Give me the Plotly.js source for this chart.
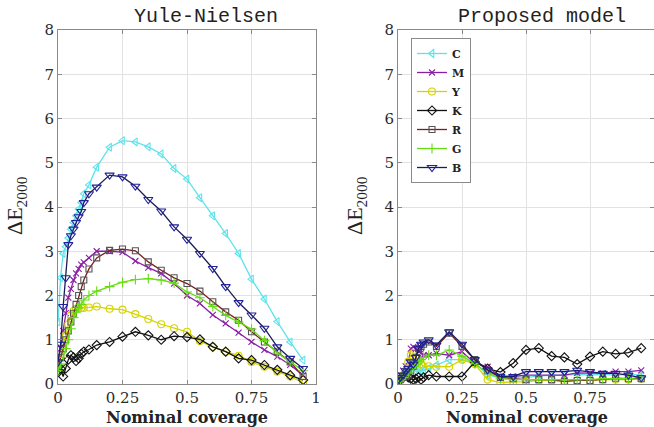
<!DOCTYPE html>
<html>
<head>
<meta charset="utf-8">
<script src="https://cdn.plot.ly/plotly-3.0.1.min.js"></script>
<style>html,body{margin:0;padding:0;background:#fff;}#chart{width:654px;height:427px;}</style>
</head>
<body>
<div id="chart"></div>
<script>
// Nominal coverage sample points
const coverage = [0, 0.01, 0.02, 0.03, 0.04, 0.05, 0.06, 0.07, 0.08, 0.09, 0.1, 0.12, 0.15, 0.2, 0.25, 0.3, 0.35, 0.4, 0.45, 0.5, 0.55, 0.6, 0.65, 0.7, 0.75, 0.8, 0.85, 0.9, 0.95];
const seriesNames = ['C', 'M', 'Y', 'K', 'R', 'G', 'B'];

// Yule-Nielsen model errors (ΔE2000)
const ynC = [1.4, 2.4, 2.95, 3.1, 3.3, 3.5, 3.65, 3.8, 3.95, 4.1, 4.3, 4.5, 4.9, 5.35, 5.5, 5.47, 5.36, 5.2, 4.87, 4.63, 4.21, 3.8, 3.4, 2.95, 2.37, 1.92, 1.41, 0.95, 0.54];
const ynM = [0.5, 0.8, 1.2, 1.6, 1.95, 2.15, 2.35, 2.5, 2.6, 2.7, 2.75, 2.85, 3.0, 3.0, 2.98, 2.78, 2.63, 2.5, 2.27, 2.0, 1.82, 1.56, 1.37, 1.16, 0.95, 0.77, 0.62, 0.43, 0.2];
const ynY = [0.4, 0.6, 0.8, 1.1, 1.35, 1.55, 1.65, 1.7, 1.72, 1.72, 1.72, 1.73, 1.75, 1.7, 1.68, 1.58, 1.47, 1.35, 1.26, 1.18, 0.97, 0.84, 0.73, 0.64, 0.5, 0.39, 0.28, 0.17, 0.03];
const ynK = [0.3, 0.35, 0.17, 0.35, 0.55, 0.65, 0.6, 0.52, 0.58, 0.68, 0.73, 0.78, 0.88, 0.95, 1.07, 1.18, 1.1, 1.0, 1.08, 1.06, 1.01, 0.84, 0.73, 0.58, 0.54, 0.43, 0.32, 0.2, 0.09];
const ynR = [0.4, 0.6, 0.8, 1.0, 1.2, 1.4, 1.6, 1.8, 2.0, 2.2, 2.35, 2.6, 2.85, 3.02, 3.05, 3.01, 2.76, 2.57, 2.4, 2.27, 2.1, 1.86, 1.63, 1.44, 1.18, 0.95, 0.73, 0.5, 0.17];
const ynG = [0.3, 0.45, 0.6, 0.8, 1.0, 1.25, 1.5, 1.62, 1.72, 1.8, 1.9, 2.0, 2.1, 2.2, 2.3, 2.36, 2.38, 2.35, 2.28, 2.08, 1.95, 1.75, 1.55, 1.4, 1.24, 0.98, 0.7, 0.5, 0.3];
const ynB = [0.5, 0.9, 1.75, 2.4, 3.15, 3.35, 3.5, 3.65, 3.78, 3.9, 4.1, 4.3, 4.45, 4.72, 4.68, 4.47, 4.17, 3.91, 3.55, 3.27, 2.95, 2.61, 2.2, 1.84, 1.56, 1.26, 0.84, 0.58, 0.35];

// Proposed model errors (ΔE2000)
const pmC = [0.1, 0.15, 0.2, 0.25, 0.3, 0.35, 0.4, 0.35, 0.3, 0.3, 0.3, 0.35, 0.43, 0.55, 0.55, 0.48, 0.2, 0.15, 0.15, 0.15, 0.18, 0.2, 0.2, 0.22, 0.2, 0.22, 0.2, 0.22, 0.2];
const pmM = [0.1, 0.2, 0.3, 0.4, 0.5, 0.8, 0.84, 0.8, 0.75, 0.7, 0.65, 0.65, 0.69, 0.65, 0.73, 0.47, 0.39, 0.17, 0.17, 0.2, 0.2, 0.2, 0.2, 0.25, 0.24, 0.24, 0.28, 0.28, 0.31];
const pmY = [0.05, 0.1, 0.2, 0.3, 0.5, 0.65, 0.7, 0.6, 0.5, 0.45, 0.4, 0.4, 0.39, 0.39, 0.55, 0.45, 0.1, 0.03, 0.05, 0.05, 0.08, 0.08, 0.05, 0.08, 0.08, 0.1, 0.1, 0.1, 0.12];
const pmK = [0.05, 0.1, 0.15, 0.2, 0.15, 0.12, 0.1, 0.12, 0.15, 0.1, 0.15, 0.2, 0.17, 0.17, 0.17, 0.5, 0.35, 0.27, 0.47, 0.77, 0.81, 0.63, 0.6, 0.45, 0.62, 0.73, 0.68, 0.71, 0.81];
const pmR = [0.05, 0.1, 0.15, 0.2, 0.2, 0.3, 0.4, 0.6, 0.8, 0.85, 0.9, 0.95, 0.85, 1.15, 0.85, 0.55, 0.3, 0.15, 0.12, 0.1, 0.1, 0.1, 0.06, 0.08, 0.08, 0.1, 0.13, 0.12, 0.12];
const pmG = [0.05, 0.1, 0.15, 0.2, 0.25, 0.35, 0.4, 0.45, 0.5, 0.55, 0.6, 0.65, 0.65, 0.77, 0.63, 0.46, 0.25, 0.12, 0.1, 0.1, 0.1, 0.1, 0.1, 0.1, 0.1, 0.12, 0.12, 0.12, 0.15];
const pmB = [0.1, 0.15, 0.2, 0.3, 0.35, 0.5, 0.45, 0.6, 0.8, 0.9, 0.95, 1.0, 0.88, 1.18, 0.9, 0.55, 0.32, 0.17, 0.17, 0.28, 0.28, 0.28, 0.28, 0.31, 0.28, 0.24, 0.24, 0.2, 0.14];

const xTickVals = [0, 0.25, 0.5, 0.75, 1];
const xTickText = ['0', '0.25', '0.5', '0.75', '1'];
const yTickVals = [0, 1, 2, 3, 4, 5, 6, 7, 8];

const styles = {
  C: {line: '#5ee3ea', mk: '#5ee3ea', sym: 'triangle-left-open', size: 7},
  M: {line: '#8a1fa6', mk: '#8a1fa6', sym: 'x-thin-open', size: 6},
  Y: {line: '#d4d400', mk: '#d4d400', sym: 'circle-open', size: 7},
  K: {line: '#111111', mk: '#111111', sym: 'diamond-open', size: 7},
  R: {line: '#7a1e1e', mk: '#555555', sym: 'square-open', size: 6},
  G: {line: '#66dd11', mk: '#66dd11', sym: 'cross-thin-open', size: 7},
  B: {line: '#1c1c5a', mk: '#22229c', sym: 'triangle-down-open', size: 8}
};

const leftData = [ynC, ynM, ynY, ynK, ynR, ynG, ynB];
const rightData = [pmC, pmM, pmY, pmK, pmR, pmG, pmB];

const traces = [];
seriesNames.forEach((n, i) => {
  const s = styles[n];
  traces.push({
    x: coverage, y: leftData[i], name: n, type: 'scatter', mode: 'lines+markers',
    xaxis: 'x', yaxis: 'y', showlegend: false,
    line: {color: s.line, width: 1.3},
    marker: {symbol: s.sym, size: s.size, color: s.mk, line: {width: 1.1, color: s.mk}}
  });
});
seriesNames.forEach((n, i) => {
  const s = styles[n];
  traces.push({
    x: coverage, y: rightData[i], name: n, type: 'scatter', mode: 'lines+markers',
    xaxis: 'x2', yaxis: 'y2', showlegend: true,
    line: {color: s.line, width: 1.3},
    marker: {symbol: s.sym, size: s.size, color: s.mk, line: {width: 1.1, color: s.mk}}
  });
});

const W = 654, H = 427, T = 30, B = 43;
const PH = H - T - B;
const tickFont = {family: 'DejaVu Serif', size: 15, color: '#2a2a2a'};

function xax(domain) {
  return {
    domain: domain, range: [0, 1], tickvals: xTickVals, ticktext: xTickText,
    showgrid: true, gridcolor: '#e2e2e2', gridwidth: 1, zeroline: false,
    showline: true, linecolor: '#8a8a8a', linewidth: 1, mirror: 'allticks',
    ticks: 'inside', ticklen: 4, tickcolor: '#8a8a8a', tickfont: tickFont, fixedrange: true
  };
}
function yax(anchor) {
  return {
    domain: [0, 1], range: [0, 8], tickvals: yTickVals, anchor: anchor,
    showgrid: true, gridcolor: '#e2e2e2', gridwidth: 1, zeroline: false,
    showline: true, linecolor: '#8a8a8a', linewidth: 1, mirror: 'allticks',
    ticks: 'inside', ticklen: 4, tickcolor: '#8a8a8a', tickfont: tickFont, fixedrange: true
  };
}

const py = p => (H - B - p) / PH; // pixel y -> paper y
const px = p => p / W;

const titleFont = {family: 'Liberation Mono', size: 20, color: '#222'};
const labFont = {family: 'DejaVu Serif', size: 16, color: '#222', weight: 'bold'};
const yLabFont = {family: 'Liberation Serif', size: 22, color: '#222'};

const layout = {
  width: W, height: H,
  margin: {l: 0, r: 0, t: T, b: B, pad: 0},
  paper_bgcolor: '#ffffff', plot_bgcolor: '#ffffff',
  xaxis: Object.assign(xax([58 / W, 316 / W]), {anchor: 'y'}),
  yaxis: yax('x'),
  xaxis2: Object.assign(xax([398 / W, 1]), {anchor: 'y2'}),
  yaxis2: yax('x2'),
  showlegend: true,
  legend: {
    x: px(411), y: py(38), xanchor: 'left', yanchor: 'top',
    bgcolor: '#ffffff', bordercolor: '#8a8a8a', borderwidth: 1,
    font: {family: 'DejaVu Serif', size: 11, color: '#222', weight: 'bold'},
    tracegroupgap: 0, itemwidth: 30
  },
  annotations: [
    {text: 'Yule-Nielsen', xref: 'paper', yref: 'paper', x: px(206), y: py(16), xanchor: 'center', yanchor: 'middle', showarrow: false, font: titleFont},
    {text: 'Proposed model', xref: 'paper', yref: 'paper', x: px(542), y: py(16), xanchor: 'center', yanchor: 'middle', showarrow: false, font: titleFont},
    {text: 'Nominal coverage', xref: 'paper', yref: 'paper', x: px(187), y: py(418), xanchor: 'center', yanchor: 'middle', showarrow: false, font: labFont},
    {text: 'Nominal coverage', xref: 'paper', yref: 'paper', x: px(527), y: py(418), xanchor: 'center', yanchor: 'middle', showarrow: false, font: labFont},
    {text: 'ΔE<sub>2000</sub>', xref: 'paper', yref: 'paper', x: px(16), y: py(206), xanchor: 'center', yanchor: 'middle', textangle: -90, showarrow: false, font: yLabFont},
    {text: 'ΔE<sub>2000</sub>', xref: 'paper', yref: 'paper', x: px(356), y: py(206), xanchor: 'center', yanchor: 'middle', textangle: -90, showarrow: false, font: yLabFont}
  ]
};

Plotly.newPlot('chart', traces, layout, {staticPlot: true, displayModeBar: false});
</script>
</body>
</html>
